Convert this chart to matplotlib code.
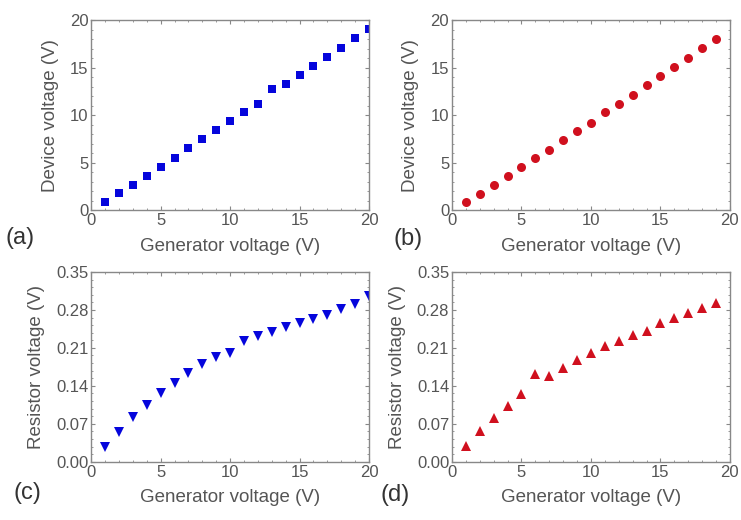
import numpy as np
import matplotlib.pyplot as plt
from matplotlib.ticker import MultipleLocator

plt.rcParams['font.family'] = ['Liberation Sans', 'DejaVu Sans']

gen_a = list(range(1, 21))
dev_a = [0.88, 1.75, 2.63, 3.58, 4.56, 5.54, 6.49, 7.44, 8.42, 9.4,
         10.35, 11.16, 12.74, 13.26, 14.2, 15.19, 16.14, 17.12, 18.18, 19.12]

gen_b = list(range(1, 20))
dev_b = [0.87, 1.74, 2.68, 3.58, 4.52, 5.46, 6.37, 7.37, 8.35, 9.2,
         10.3, 11.2, 12.1, 13.2, 14.1, 15.06, 16.0, 17.04, 18.0]

gen_c = list(range(1, 21))
res_c = [0.028, 0.055, 0.083, 0.104, 0.126, 0.146, 0.163, 0.181, 0.193, 0.201,
         0.223, 0.231, 0.239, 0.249, 0.255, 0.264, 0.270, 0.281, 0.290, 0.305]

gen_d = list(range(1, 20))
res_d = [0.029, 0.057, 0.081, 0.103, 0.125, 0.161, 0.158, 0.173, 0.187, 0.201,
         0.213, 0.222, 0.234, 0.242, 0.256, 0.266, 0.274, 0.284, 0.292]

blue = '#0505dc'
red = '#d0101e'
txt = '#555555'
edge = '#888888'

fig = plt.figure(figsize=(7.41, 5.20), dpi=100)
w, h = 0.375, 0.365
pos = {'a': [0.123, 0.596, w, h], 'b': [0.610, 0.596, w, h],
       'c': [0.123, 0.112, w, h], 'd': [0.610, 0.112, w, h]}
# panel letter positions (figure fraction)
lab = {'a': (0.008, 0.542), 'b': (0.531, 0.540),
       'c': (0.018, 0.052), 'd': (0.514, 0.048)}

panels = [
    ('a', gen_a, dev_a, 's', blue, 'Device voltage (V)', (0, 20), 5),
    ('b', gen_b, dev_b, 'o', red, 'Device voltage (V)', (0, 20), 5),
    ('c', gen_c, res_c, 'v', blue, 'Resistor voltage (V)', (0, 0.35), 0.07),
    ('d', gen_d, res_d, '^', red, 'Resistor voltage (V)', (0, 0.35), 0.07),
]

for key, x, y, mk, col, ylab, ylim, ystep in panels:
    ax = fig.add_axes(pos[key])
    ms = {'s': 6, 'o': 6.5, 'v': 7, '^': 7}[mk]
    ax.plot(x, y, mk, color=col, markersize=ms, markeredgewidth=0)
    ax.set_xlim(0, 20)
    ax.set_ylim(*ylim)
    ax.xaxis.set_major_locator(MultipleLocator(5))
    ax.xaxis.set_minor_locator(MultipleLocator(1))
    ax.yaxis.set_major_locator(MultipleLocator(ystep))
    ax.yaxis.set_minor_locator(MultipleLocator(ystep / 5))
    if ystep < 1:
        ax.yaxis.set_major_formatter(plt.FormatStrFormatter('%.2f'))
    ax.tick_params(which='both', direction='in', top=True, right=True,
                   colors=edge, labelcolor=txt, labelsize=12)
    ax.tick_params(which='major', length=3, width=0.8, pad=2)
    ax.tick_params(which='minor', length=1.5, width=0.6)
    for s in ax.spines.values():
        s.set_color(edge)
        s.set_linewidth(1.0)
    ax.set_xlabel('Generator voltage (V)', fontsize=13.5, color=txt, labelpad=7)
    ax.set_ylabel(ylab, fontsize=13.5, color=txt, labelpad=8)
    fig.text(lab[key][0], lab[key][1], '(%s)' % key,
             fontsize=17, color='#333333', ha='left', va='center')

fig.savefig('out.png', dpi=100)
